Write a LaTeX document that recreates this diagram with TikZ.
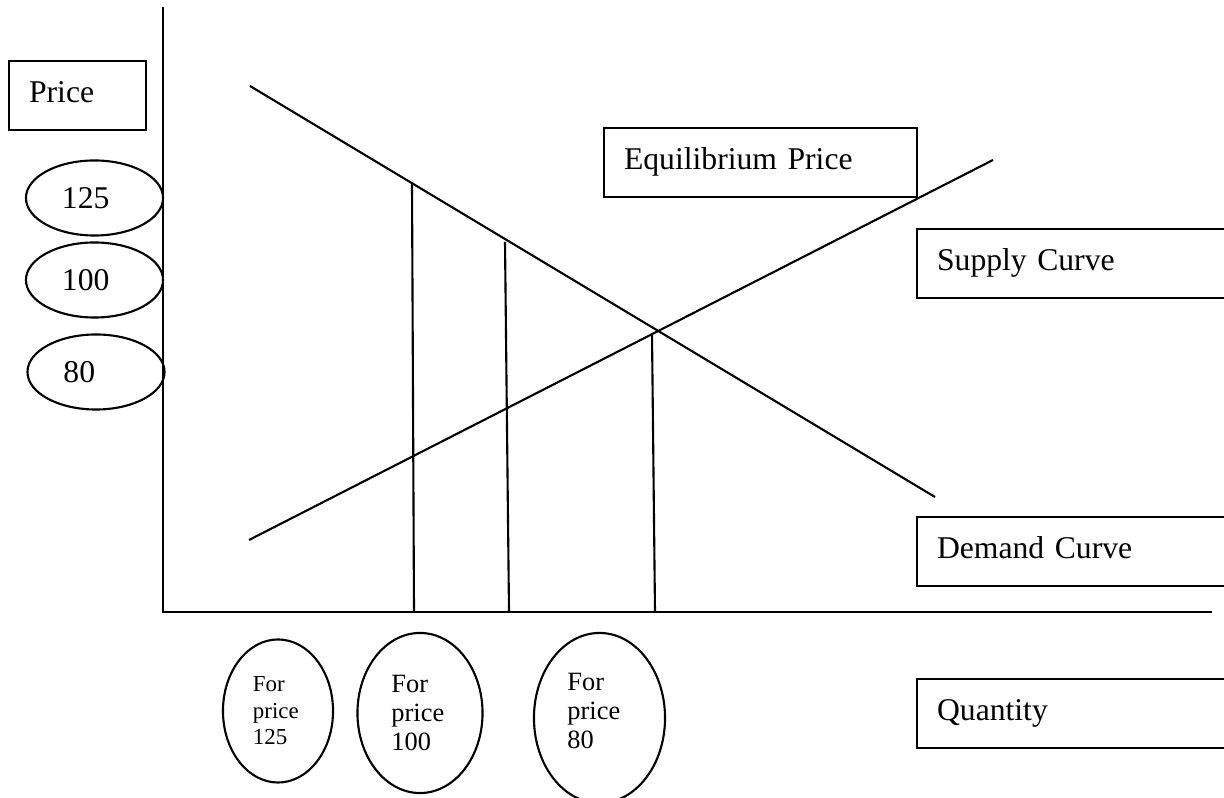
\documentclass[tikz,border=0pt]{standalone}
\usepackage{fontspec}
\setmainfont{Liberation Serif}
\usetikzlibrary{shapes.geometric}
\tikzset{lbl/.style={draw, rectangle, anchor=north west, inner xsep=0.2cm, inner ysep=0.1cm, align=left, text height=0.31cm, text depth=0.18cm, font=\fontsize{9}{11}\selectfont}}
\tikzstyle{pr}=[draw, ellipse, inner sep=0pt, minimum width=1.37cm, minimum height=0.75cm, text width=0.65cm, align=left, font=\fontsize{9}{11}\selectfont]
\tikzstyle{qt}=[draw, ellipse, inner sep=0pt, align=left, font=\fontsize{7.5}{8.25}\selectfont]

\begin{document}
\begin{tikzpicture}[x=0.01cm, y=-0.01cm, line width=0.6pt]
\useasboundingbox (0,0) rectangle (1224,798);
% axes
\coordinate (ytop) at (163,7);
\coordinate (O) at (163,612);
\coordinate (xend) at (1212,612);
\draw (ytop) -- (O) -- (xend);

% demand and supply
\coordinate (D1) at (250,86);
\coordinate (D2) at (935,497);
\coordinate (S1) at (249,540);
\coordinate (S2) at (993,160);
\draw (D1) -- (D2);
\draw (S1) -- (S2);

% quantities
\coordinate (q125) at (412,184);
\coordinate (b125) at (414,612);
\coordinate (q100) at (505,242);
\coordinate (b100) at (509,612);
\coordinate (eq) at (652,334);
\coordinate (b80) at (655,612);
\draw (q125) -- (b125)
      (q100) -- (b100)
      (eq) -- (b80);

\node[lbl, text width=0.97cm] (price) at (8,60) {Price};
\node[lbl, text width=2.73cm] (equi) at (603,127) {Equilibrium Price};
\node[lbl, text width=2.70cm] (supply) at (916,228) {Supply Curve};
\node[lbl, text width=2.70cm] (demand) at (916,516) {Demand Curve};
\node[lbl, text width=2.70cm] (qty) at (916,678) {Quantity};

\node[pr] (p125) at (94.5,198) {125};
\node[pr] (p100) at (94.5,280) {100};
\node[pr] (p80) at (96,372) {80};

\node[qt, minimum width=1.10cm, minimum height=1.43cm, text width=0.5cm, font=\fontsize{6.5}{7.5}\selectfont] (f125) at (278,711) {For\\price\\125};
\node[qt, minimum width=1.25cm, minimum height=1.60cm, text width=0.57cm] (f100) at (420,713) {For\\price\\100};
\node[qt, minimum width=1.31cm, minimum height=1.70cm, text width=0.64cm, text depth=0.72cm] (f80) at (599.5,718) {For\\price\\80};
\end{tikzpicture}
\end{document}
